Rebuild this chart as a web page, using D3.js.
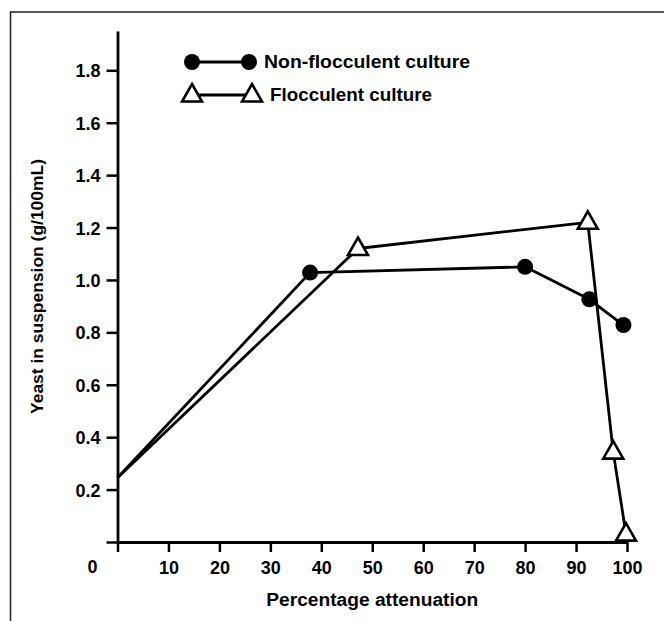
<!DOCTYPE html>
<html>
<head>
<meta charset="utf-8">
<script src="https://cdn.jsdelivr.net/npm/d3@7/dist/d3.min.js"></script>
<style>
  html, body { margin: 0; padding: 0; background: #fff; }
  svg { display: block; }
  text { font-family: "Liberation Sans", Arial, Helvetica, sans-serif; font-weight: bold; fill: #000; }
</style>
</head>
<body>
<svg id="chart" width="664" height="621"></svg>
<script>
// ---- data ----
const seriesNames = ["Non-flocculent culture", "Flocculent culture"];
const nonFlocX = [0, 37.8, 80.0, 92.6, 99.3];
const nonFlocY = [0.245, 1.028, 1.05, 0.926, 0.828];
const flocX = [0, 47.2, 92.3, 97.3, 99.8];
const flocY = [0.245, 1.12, 1.22, 0.343, 0.03];
const xTicks = [0, 10, 20, 30, 40, 50, 60, 70, 80, 90, 100];
const xTickLabels = ["", "10", "20", "30", "40", "50", "60", "70", "80", "90", "100"];
const yTicks = [0, 0.2, 0.4, 0.6, 0.8, 1.0, 1.2, 1.4, 1.6, 1.8];
const yTickLabels = ["", "0.2", "0.4", "0.6", "0.8", "1.0", "1.2", "1.4", "1.6", "1.8"];
const originLabel = "0";
const xTitle = "Percentage attenuation";
const yTitle = "Yeast in suspension (g/100mL)";

// ---- layout ----
const svg = d3.select("#chart");
const x = d3.scaleLinear().domain([0, 100]).range([117.5, 627]);
const y = d3.scaleLinear().domain([0, 1.95]).range([542, 31]);

// frame (cropped at right/bottom)
svg.append("path")
  .attr("d", "M10.5,700 V12 H700")
  .attr("fill", "none").attr("stroke", "#222").attr("stroke-width", 1.5);

// axes
const xAxis = d3.axisBottom(x).tickValues(xTicks)
  .tickFormat((d, i) => xTickLabels[i]).tickSize(10).tickSizeOuter(0).tickPadding(6);
const yAxis = d3.axisLeft(y).tickValues(yTicks)
  .tickFormat((d, i) => yTickLabels[i]).tickSize(11).tickSizeOuter(0).tickPadding(6);

const gx = svg.append("g").attr("transform", `translate(0,${y(0)})`).call(xAxis);
const gy = svg.append("g").attr("transform", `translate(${x(0)},0)`).call(yAxis);
[gx, gy].forEach(g => {
  g.select(".domain").attr("stroke", "#000").attr("stroke-width", 2.8);
  g.selectAll(".tick line").attr("stroke", "#000").attr("stroke-width", 2.5);
  g.selectAll(".tick text").attr("font-size", 18).attr("font-weight", "bold")
    .attr("font-family", '"Liberation Sans", Arial, sans-serif').attr("fill", "#000");
});
gy.selectAll(".tick text").attr("dy", "0.36em");
gx.selectAll(".tick text").attr("dy", "0.9em");

svg.append("text").attr("x", x(0) - 25).attr("y", y(0) + 31)
  .attr("text-anchor", "middle").attr("font-size", 18).text(originLabel);

// titles
svg.append("text").attr("x", (x(0) + x(100)) / 2).attr("y", 606)
  .attr("text-anchor", "middle").attr("font-size", 18)
  .attr("textLength", 212).attr("lengthAdjust", "spacingAndGlyphs").text(xTitle);
svg.append("text").attr("transform", `translate(43,${(y(0) + y(1.95)) / 2}) rotate(-90)`)
  .attr("text-anchor", "middle").attr("font-size", 17)
  .attr("textLength", 255).attr("lengthAdjust", "spacingAndGlyphs").text(yTitle);

// series
const line = d3.line().x(d => x(d[0])).y(d => y(d[1]));
const nonFloc = nonFlocX.map((v, i) => [v, nonFlocY[i]]);
const floc = flocX.map((v, i) => [v, flocY[i]]);
const triPath = "M0,-11 L10,6.5 L-10,6.5 Z";

[nonFloc, floc].forEach(data => {
  svg.append("path").datum(data).attr("d", line)
    .attr("fill", "none").attr("stroke", "#000").attr("stroke-width", 2.8)
    .attr("stroke-linejoin", "round");
});

svg.append("g").selectAll("circle").data(nonFloc.filter(d => d[0] > 0)).join("circle")
  .attr("cx", d => x(d[0])).attr("cy", d => y(d[1])).attr("r", 8).attr("fill", "#000");

svg.append("g").selectAll("path").data(floc.filter(d => d[0] > 0)).join("path")
  .attr("d", triPath).attr("transform", d => `translate(${x(d[0])},${y(d[1])})`)
  .attr("fill", "#fff").attr("stroke", "#000").attr("stroke-width", 2.6)
  .attr("stroke-linejoin", "miter");

// legend
const lg = svg.append("g");
lg.append("line").attr("x1", 192).attr("x2", 249).attr("y1", 62).attr("y2", 62)
  .attr("stroke", "#000").attr("stroke-width", 2.8);
[192, 249].forEach(cx => lg.append("circle").attr("cx", cx).attr("cy", 62).attr("r", 8).attr("fill", "#000"));
lg.append("text").attr("x", 264).attr("y", 68).attr("font-size", 18)
  .attr("textLength", 206).attr("lengthAdjust", "spacingAndGlyphs").text(seriesNames[0]);

lg.append("line").attr("x1", 192).attr("x2", 252).attr("y1", 95).attr("y2", 95)
  .attr("stroke", "#000").attr("stroke-width", 2.8);
[192, 252].forEach(cx => lg.append("path").attr("d", triPath).attr("transform", `translate(${cx},95)`)
  .attr("fill", "#fff").attr("stroke", "#000").attr("stroke-width", 2.6));
lg.append("text").attr("x", 270).attr("y", 101).attr("font-size", 18)
  .attr("textLength", 162).attr("lengthAdjust", "spacingAndGlyphs").text(seriesNames[1]);
</script>
</body>
</html>
